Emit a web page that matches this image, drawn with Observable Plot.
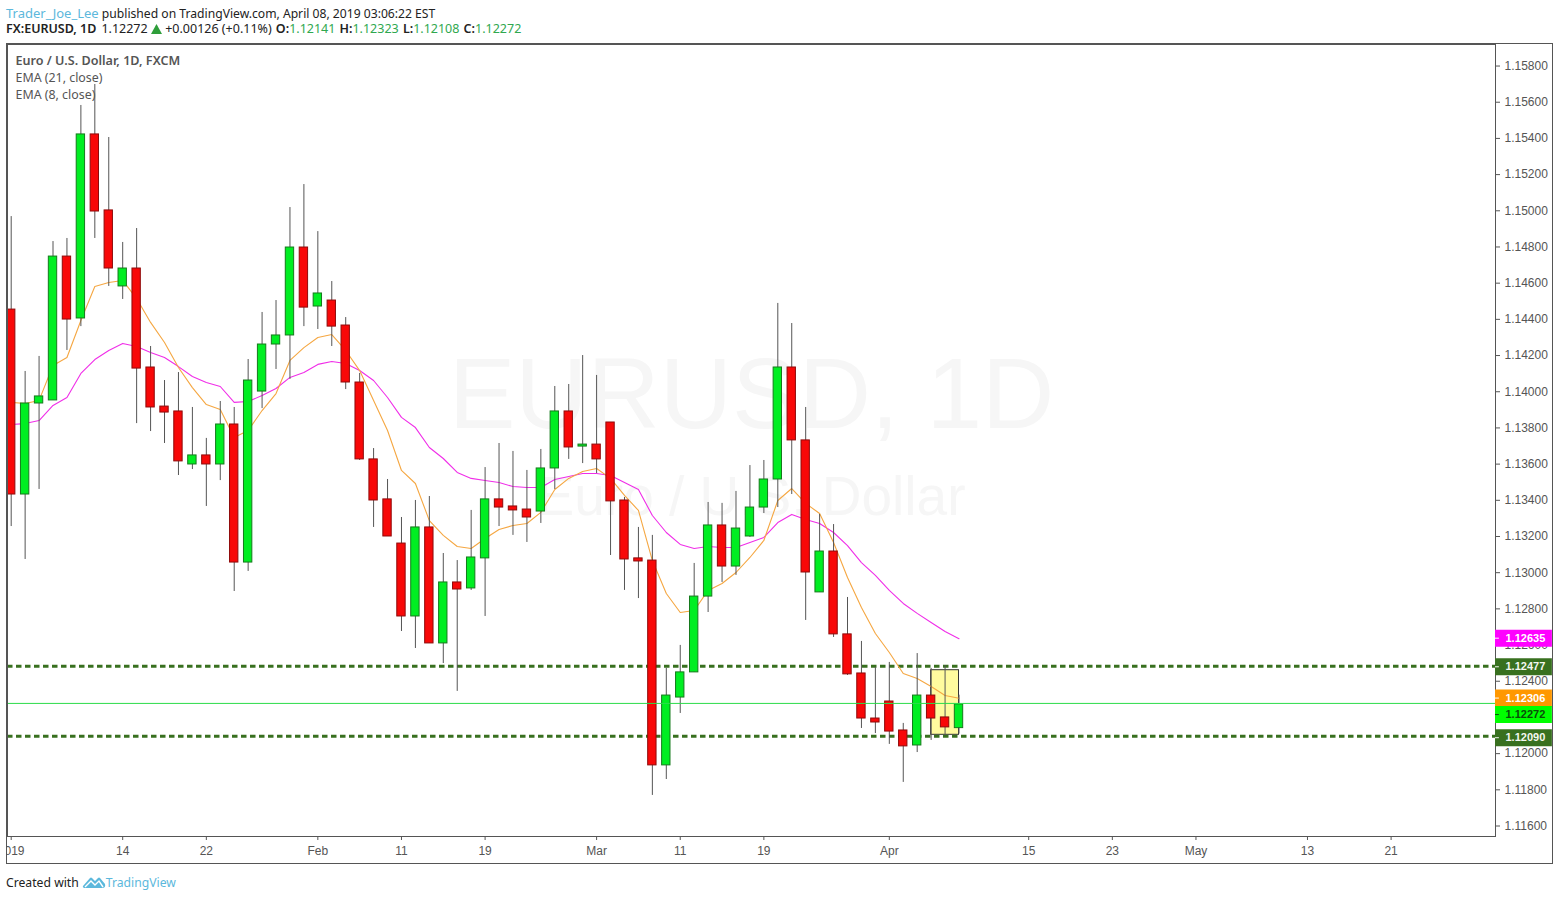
<!DOCTYPE html>
<html>
<head>
<meta charset="utf-8">
<script src="https://cdn.jsdelivr.net/npm/d3@7"></script>
<script src="https://cdn.jsdelivr.net/npm/@observablehq/plot@0.6"></script>
<style>
html,body{margin:0;padding:0;background:#fff;}
body{width:1559px;height:900px;overflow:hidden;font-family:"Noto Sans",sans-serif;}
#head{height:43px;padding-left:6px;box-sizing:border-box;color:#222;}
#head .l1{height:16px;padding-top:5px;line-height:17px;font-size:12.15px;}
#head .l1 .u{font-size:13px;}
#head .l2{height:16px;line-height:16px;white-space:pre;font-size:12.5px;}
#head b{font-weight:600;margin-left:0.9px;}
#head .p{margin-left:1.75px;}
#head .tri{vertical-align:-1px;}
.u{color:#5cb8dc;}
.g{color:#2fa84f;}
#chart{margin-left:6px;}
#foot{margin-left:6px;margin-top:9px;font-size:12.2px;color:#222;display:flex;align-items:center;height:18px;}
#foot svg{margin:0 0 0 3px;}
</style>
</head>
<body>
<div id="head">
<div class="l1"><span class="u">Trader_Joe_Lee</span> published on TradingView.com, April 08, 2019 03:06:22 EST</div>
<div class="l2"><b style="margin-left:0">FX:EURUSD, 1D</b> <span class="p">1.12272</span> <svg class="tri" width="11" height="10" viewBox="0 0 11 10"><path d="M5.5 0 L11 10 L0 10 Z" fill="#2e9e3a"/></svg> +0.00126 (+0.11%) <b>O:</b><span class="g">1.12141</span> <b>H:</b><span class="g">1.12323</span> <b>L:</b><span class="g">1.12108</span> <b>C:</b><span class="g">1.12272</span></div>
</div>
<div id="chart"></div>
<div id="foot">Created with<svg width="24" height="14" viewBox="0 0 24 14"><path d="M1 11 L8 3 Q9 2 10 3 L13 6 L16 3 Q17 2 18 3 L23 9 Q24 13 20 13 L4 13 Q0 13 1 11 Z" fill="#5cb8dc"/><path d="M3 12 L9 6 L13 10 L17 6 L21 12" fill="none" stroke="#fff" stroke-width="1.4"/></svg><span class="u">TradingView</span></div>
<script>
const open = [1.14454,1.13432,1.13935,1.13952,1.14747,1.14405,1.15422,1.15002,1.14582,1.14681,1.14134,1.13918,1.13891,1.13598,1.13648,1.13598,1.13819,1.13056,1.14001,1.14261,1.14311,1.14797,1.14471,1.14504,1.14366,1.14051,1.13626,1.13405,1.13161,1.12758,1.13250,1.12609,1.12946,1.12913,1.13079,1.13405,1.13366,1.13349,1.13338,1.13576,1.13891,1.13697,1.13708,1.13830,1.13399,1.13079,1.13067,1.11935,1.12310,1.12449,1.12868,1.13261,1.13034,1.13200,1.13360,1.13515,1.14134,1.13731,1.12891,1.13117,1.12659,1.12443,1.12194,1.12288,1.12128,1.12045,1.12321,1.12200,1.12141];
const close = [1.13432,1.13935,1.13974,1.14747,1.14399,1.15422,1.14996,1.14681,1.14681,1.14128,1.13913,1.13885,1.13615,1.13648,1.13598,1.13819,1.13056,1.14062,1.14261,1.14311,1.14797,1.14465,1.14543,1.14360,1.14051,1.13626,1.13399,1.13200,1.12758,1.13250,1.12609,1.12946,1.12907,1.13084,1.13405,1.13360,1.13344,1.13305,1.13576,1.13891,1.13692,1.13708,1.13626,1.13394,1.13073,1.13062,1.11935,1.12321,1.12449,1.12868,1.13261,1.13034,1.13244,1.13360,1.13515,1.14134,1.13731,1.13001,1.13117,1.12659,1.12438,1.12194,1.12172,1.12122,1.12040,1.12321,1.12194,1.12145,1.12272];
const high = [1.14968,1.14112,1.14195,1.14830,1.14847,1.15582,1.15698,1.15405,1.14825,1.14902,1.14250,1.14062,1.14106,1.13913,1.13742,1.13946,1.13913,1.14178,1.14438,1.14504,1.15018,1.15145,1.14885,1.14609,1.14410,1.14101,1.13686,1.13515,1.13305,1.13399,1.13421,1.13106,1.13067,1.13344,1.13581,1.13714,1.13670,1.13565,1.13681,1.14029,1.14040,1.14200,1.14090,1.13830,1.13416,1.13250,1.13206,1.12471,1.12598,1.13051,1.13388,1.13383,1.13449,1.13592,1.13620,1.14488,1.14377,1.13913,1.13322,1.13266,1.12863,1.12620,1.12476,1.12504,1.12167,1.12553,1.12471,1.12487,1.12323];
const low = [1.13255,1.13073,1.13460,1.13952,1.14228,1.14360,1.14847,1.14582,1.14510,1.13824,1.13780,1.13714,1.13537,1.13570,1.13366,1.13509,1.12896,1.13007,1.13907,1.14123,1.14068,1.14360,1.14344,1.14250,1.14012,1.13620,1.13250,1.13200,1.12675,1.12581,1.12609,1.12498,1.12344,1.12902,1.12758,1.13255,1.13206,1.13167,1.13272,1.13460,1.13626,1.13603,1.13548,1.13095,1.12902,1.12857,1.11769,1.11857,1.12222,1.12449,1.12780,1.12946,1.12985,1.13195,1.13327,1.13360,1.13432,1.12736,1.12891,1.12642,1.12432,1.12139,1.12111,1.12051,1.11841,1.12006,1.12073,1.12100,1.12108];
const ema21 = [1.13819,1.13824,1.13841,1.13924,1.13968,1.14101,1.14178,1.14228,1.14267,1.14250,1.14217,1.14189,1.14139,1.14084,1.14051,1.14029,1.13941,1.13946,1.13979,1.14018,1.14079,1.14106,1.14151,1.14167,1.14156,1.14117,1.14062,1.13968,1.13858,1.13802,1.13692,1.13631,1.13554,1.13521,1.13509,1.13498,1.13476,1.13471,1.13471,1.13515,1.13532,1.13548,1.13548,1.13537,1.13498,1.13460,1.13316,1.13222,1.13156,1.13134,1.13145,1.13139,1.13139,1.13167,1.13195,1.13277,1.13322,1.13294,1.13272,1.13222,1.13150,1.13056,1.12985,1.12902,1.12830,1.12775,1.12725,1.12675,1.12635];
const ema8 = [1.13941,1.13935,1.13952,1.14145,1.14189,1.14394,1.14582,1.14604,1.14615,1.14515,1.14383,1.14272,1.14134,1.14023,1.13929,1.13902,1.13747,1.13786,1.13896,1.13990,1.14173,1.14244,1.14300,1.14316,1.14228,1.14117,1.13952,1.13786,1.13565,1.13493,1.13288,1.13206,1.13145,1.13134,1.13189,1.13239,1.13261,1.13272,1.13333,1.13460,1.13521,1.13559,1.13576,1.13521,1.13427,1.13344,1.13067,1.12885,1.12780,1.12791,1.12902,1.12940,1.13001,1.13084,1.13178,1.13399,1.13465,1.13383,1.13327,1.13167,1.12973,1.12808,1.12664,1.12559,1.12443,1.12415,1.12371,1.12321,1.12306];
const yTicks = [1.116,1.118,1.12,1.124,1.126,1.128,1.13,1.132,1.134,1.136,1.138,1.14,1.142,1.144,1.146,1.148,1.15,1.152,1.154,1.156,1.158];
const xTicks = [0,8,14,22,28,34,42,48,54,63,73,79,85,93,99];
const xLabels = ["2019","14","22","Feb","11","19","Mar","11","19","Apr","15","23","May","13","21"];
const levels = [1.12477,1.1209];
const lastPrice = [1.12272];
const tagValues = [1.12635,1.12477,1.12306,1.12272,1.1209];
const tagAt = [1.12638,1.1248,1.12307,1.12216,1.12088];
const tagFill = ["#ff00ff","#38701f","#ff9800","#00ff00","#38701f"];
const tagText = ["#ffffff","#f4f7f0","#ffffff","#0a4d0a","#f4f7f0"];
const boxX = [66,68];
const boxY = [1.12104,1.12461];

const idx = open.map((_, i) => i);
const up = idx.filter(i => close[i] >= open[i]);
const down = idx.filter(i => close[i] < open[i]);
const axisLeft = 106.49, axisRight = 110.57;
const W = 0.3;

const chart = Plot.plot({
  width: 1545, height: 819,
  marginLeft: 0, marginRight: 57, marginTop: 0, marginBottom: 27,
  style: {overflow:"hidden", border:"1px solid #555", fontFamily:"'Liberation Sans',Arial,sans-serif", background:"#fff"},
  x: {type:"linear", domain:[-0.265, axisLeft]},
  y: {type:"linear", domain:[1.11542, 1.15919]},
  marks: [
    Plot.text(["EURUSD, 1D"], {text:d=>d, frameAnchor:"top", dy:351, lineAnchor:"middle", fontSize:100, fill:"#f6f6f6"}),
    Plot.text(["Euro / U.S. Dollar"], {text:d=>d, frameAnchor:"top", dy:453, lineAnchor:"middle", fontSize:55, fill:"#f6f6f6"}),
    Plot.rect([0], {x1:()=>boxX[0], x2:()=>boxX[1], y1:()=>boxY[0], y2:()=>boxY[1], fill:"#fffb9e", stroke:"#333", strokeWidth:1}),
    Plot.ruleY(levels, {stroke:"#38701f", strokeWidth:3, strokeDasharray:"5.5,3.5", dy:-1}),
    Plot.line(ema21, {x:(d,i)=>i, y:d=>d, stroke:"#f02ee8", strokeWidth:1.1}),
    Plot.line(ema8, {x:(d,i)=>i, y:d=>d, stroke:"#f5a742", strokeWidth:1.1}),
    Plot.ruleX(idx, {x:i=>i, y1:i=>low[i], y2:i=>high[i], stroke:"#555", strokeWidth:1}),
    Plot.rect(up, {x1:i=>i-W, x2:i=>i+W, y1:i=>open[i], y2:i=>close[i], fill:"#00ee22", stroke:"#157a1c", strokeWidth:1}),
    Plot.rect(down, {x1:i=>i-W, x2:i=>i+W, y1:i=>open[i], y2:i=>close[i], fill:"#f80808", stroke:"#8f0a0a", strokeWidth:1}),
    Plot.ruleY(lastPrice, {stroke:"#2bdc4a", strokeWidth:1, dy:-1}),
    Plot.axisX({ticks:xTicks, tickFormat:d=>xLabels[xTicks.indexOf(d)], anchor:"bottom", tickSize:4, tickPadding:6, fontSize:12, fill:"#555", stroke:"#555", label:null}),
    Plot.axisY({ticks:yTicks, tickFormat:d=>d.toFixed(5), anchor:"right", tickSize:4, tickPadding:5, fontSize:12, fill:"#555", stroke:"#555", label:null}),
    Plot.frame({stroke:"#555"}),
    ...tagValues.flatMap((v,k)=>[
      Plot.ruleY([tagAt[k]], {y:d=>d, x1:()=>axisLeft, x2:()=>axisRight, stroke:tagFill[k], strokeWidth:17}),
      Plot.ruleY([tagAt[k]], {y:d=>d, x1:()=>axisLeft, x2:()=>axisLeft+0.28, stroke:tagText[k], strokeWidth:1}),
      Plot.text([v], {x:()=>axisLeft, y:()=>tagAt[k], text:d=>d.toFixed(5), textAnchor:"start", dx:10, fill:tagText[k], fontSize:11, fontWeight:"bold"})
    ]),
    Plot.text(["Euro / U.S. Dollar, 1D, FXCM"], {text:d=>d, frameAnchor:"top-left", dx:8, dy:12, lineAnchor:"top", fontFamily:"'Noto Sans',sans-serif", fontWeight:600, fontSize:12.6, fill:"#555"}),
    Plot.text(["EMA (21, close)"], {text:d=>d, frameAnchor:"top-left", dx:8, dy:29, lineAnchor:"top", fontFamily:"'Noto Sans',sans-serif", fontSize:12.4, fill:"#555"}),
    Plot.text(["EMA (8, close)"], {text:d=>d, frameAnchor:"top-left", dx:8, dy:46, lineAnchor:"top", fontFamily:"'Noto Sans',sans-serif", fontSize:12.4, fill:"#555"})
  ]
});
document.getElementById("chart").appendChild(chart);
</script>
</body>
</html>
